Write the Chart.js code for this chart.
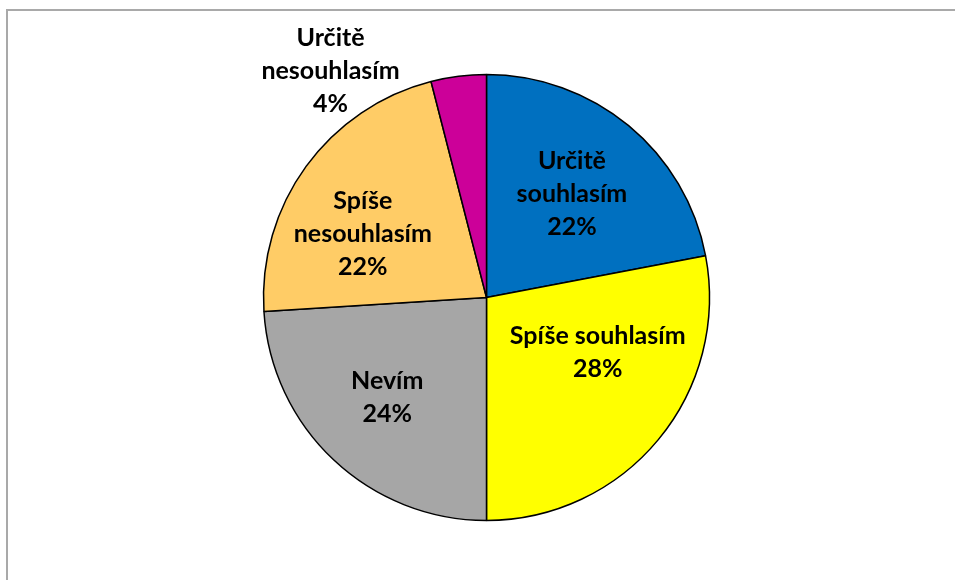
<!DOCTYPE html>
<html>
<head>
<meta charset="utf-8">
<script src="https://cdn.jsdelivr.net/npm/chart.js@4/dist/chart.umd.min.js"></script>
<style>
  body { margin: 0; background: #fff; }
  .wrap { position: relative; width: 955px; height: 580px; overflow: hidden; }
  .frame { position: absolute; left: 6px; top: 9px; width: 1000px; height: 700px;
           border-left: 2px solid #a9a9a9; border-top: 2px solid #a9a9a9; }
  canvas { position: absolute; left: 0; top: 0; }
</style>
</head>
<body>
<div class="wrap">
  <div class="frame"></div>
  <canvas class="js-chart"></canvas>
</div>
<script>
const ctx = document.querySelector('.js-chart').getContext('2d');

const labels = ['Určitě souhlasím', 'Spíše souhlasím', 'Nevím', 'Spíše nesouhlasím', 'Určitě nesouhlasím'];
const shares = [22, 28, 24, 22, 4];
const colors = ['#0070C0', '#FFFF00', '#A6A6A6', '#FFCC66', '#CC0099'];
// how each label is broken into lines, as in the picture
const labelLines = [
  ['Určitě', 'souhlasím'],
  ['Spíše souhlasím'],
  ['Nevím'],
  ['Spíše', 'nesouhlasím'],
  ['Určitě', 'nesouhlasím']
];

// where each label sits: share of the radius, turn from the slice middle (deg)
const placement = [
  { r: 0.601, turn: 0 },
  { r: 0.556, turn: -13.3 },
  { r: 0.633, turn: 1.5 },
  { r: 0.623, turn: -8.9 },
  { r: 1.235, turn: -27.3 }
];

const sliceLabels = {
  id: 'sliceLabels',
  afterDatasetsDraw(chart) {
    const c = chart.ctx;
    const meta = chart.getDatasetMeta(0);
    c.save();
    c.font = 'bold 25px Lato';
    c.fillStyle = '#000';
    c.textAlign = 'center';
    c.textBaseline = 'middle';
    meta.data.forEach((arc, i) => {
      const p = arc.getProps(['x', 'y', 'startAngle', 'endAngle', 'outerRadius'], true);
      const mid = (p.startAngle + p.endAngle) / 2 + placement[i].turn * Math.PI / 180;
      const dist = p.outerRadius * placement[i].r;
      const x = p.x + Math.cos(mid) * dist;
      const y = p.y + Math.sin(mid) * dist;
      const lines = labelLines[i].concat(shares[i] + '%');
      const step = 33;
      lines.forEach((line, k) => {
        c.fillText(line, x, y + (k - (lines.length - 1) / 2) * step);
      });
    });
    c.restore();
  }
};

new Chart(ctx, {
  type: 'pie',
  data: {
    labels,
    datasets: [{
      data: shares,
      backgroundColor: colors,
      borderColor: '#000',
      borderWidth: 1.5,
      radius: 223
    }]
  },
  options: {
    responsive: true,
    maintainAspectRatio: false,
    animation: false,
    layout: { padding: { left: 18, right: 0, top: 15, bottom: 0 } },
    plugins: {
      legend: { display: false },
      tooltip: { enabled: false }
    }
  },
  plugins: [sliceLabels]
});
</script>
</body>
</html>
